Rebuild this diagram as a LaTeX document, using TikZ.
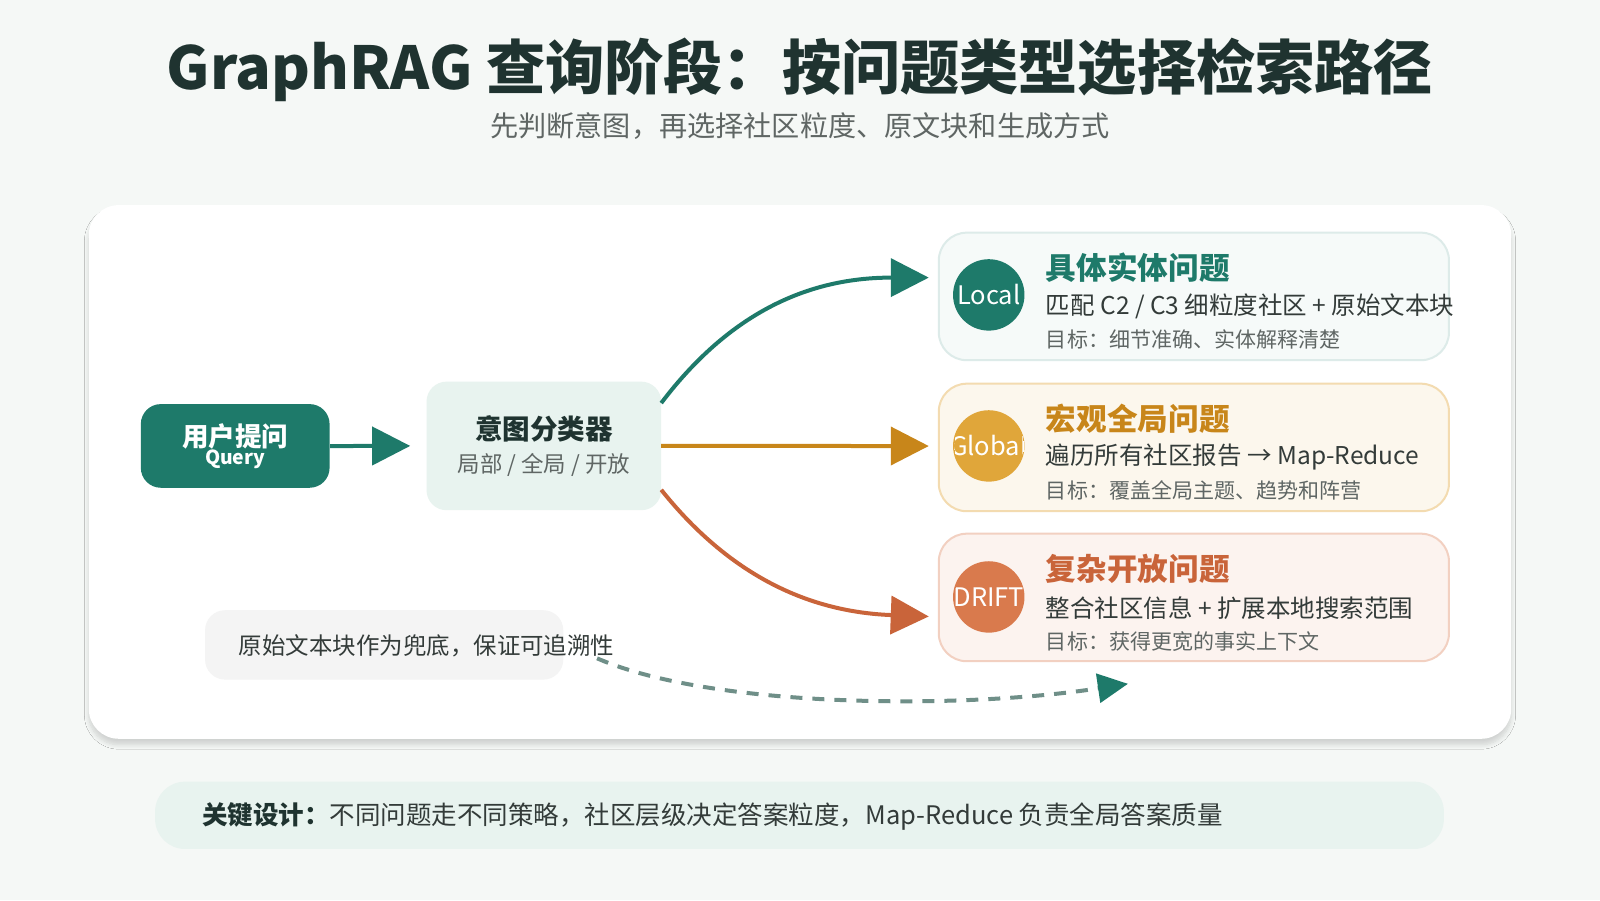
\documentclass[tikz,border=0pt]{standalone}
\usepackage{fontspec}
\setmainfont{Noto Sans CJK SC}
\usetikzlibrary{arrows.meta,shadows.blur}
\definecolor{bg}{HTML}{F5F8F6}
\definecolor{teal}{HTML}{1E7A6A}
\definecolor{dark}{HTML}{1F3330}
\definecolor{gold}{HTML}{E0A63A}
\definecolor{goldt}{HTML}{C8861A}
\definecolor{rust}{HTML}{D97A4D}
\definecolor{rustt}{HTML}{C9643A}
\definecolor{mint}{HTML}{E8F3EF}
\definecolor{txt}{HTML}{333B39}
\definecolor{gry}{HTML}{5F6664}
\definecolor{dash}{HTML}{6F8F88}
\newcommand{\fs}[1]{\fontsize{#1}{#1}\selectfont}
\tikzset{
 card/.style={rounded corners=14pt,line width=1pt,minimum width=250pt,minimum height=62.5pt,anchor=north west},
 circ/.style={circle,minimum size=35pt,inner sep=0pt},
 tip/.style={-{Triangle[length=19pt,width=19pt]},line width=2pt},
 h/.style={anchor=west,font=\fs{15}\bfseries},
 l2/.style={anchor=west,font=\fs{12},text=txt},
 l3/.style={anchor=west,font=\fs{10.3},text=gry},
}
\begin{document}
\begin{tikzpicture}[x=0.5pt,y=-0.5pt,scale=1.0204,every node/.append style={transform shape}]
\fill[bg] (0,0) rectangle (1568,882);
\node[font=\fs{29}\bfseries,text=dark] (title) at (784,68) {GraphRAG 查询阶段：按问题类型选择检索路径};
\node[font=\fs{13.8},text=gry] (sub) at (784,124) {先判断意图，再选择社区粒度、原文块和生成方式};
\fill[white,rounded corners=15pt,blur shadow={shadow blur steps=10,shadow xshift=0pt,shadow yshift=-3pt,shadow opacity=15}] (87,201) rectangle (1481,724);
\node[fill=teal,rounded corners=10pt,minimum width=92.5pt,minimum height=41pt,align=center,text=white] (user) at (230.5,437) {{\fs{13}\bfseries 用户提问}\\[-3pt]{\fs{9.5}\bfseries Query}};
\node[fill=mint,rounded corners=10pt,minimum width=115pt,minimum height=63pt,align=center] (cls) at (533,437) {{\fs{13.5}\bfseries\color{dark}意图分类器}\\[4pt]{\fs{11}\color{gry}局部 / 全局 / 开放}};
\draw[tip,teal] (user.east) -- (402,437) coordinate (ua);
\node[card,fill=teal!4,draw=teal!15] (b1) at (919,227) {};
\node[card,fill=gold!9,draw=gold!40] (b2) at (919,375) {};
\node[card,fill=rust!9,draw=rust!35] (b3) at (919,522) {};
\foreach \n/\y/\c/\t in {c1/289/teal/Local,c2/437/gold/Global,c3/585/rust/DRIFT}{
 \node[circ,fill=\c] (\n) at (969,\y) {};
 \begin{scope}\clip (969,\y) circle (34);
 \node[font=\fs{12.5},text=white] at (969,\y) {\t};
 \end{scope}}
\node[h,text=teal] (h1) at (1018,262) {具体实体问题};
\node[l2] (a1) at (1018,300) {匹配 C2 / C3 细粒度社区 + 原始文本块};
\node[l3] (t1) at (1018,333) {目标：细节准确、实体解释清楚};
\node[h,text=goldt] (h2) at (1018,410) {宏观全局问题};
\node[l2] (a2) at (1018,448) {遍历所有社区报告 → Map-Reduce};
\node[l3] (t2) at (1018,481) {目标：覆盖全局主题、趋势和阵营};
\node[h,text=rustt] (h3) at (1018,557) {复杂开放问题};
\node[l2] (a3) at (1018,596) {整合社区信息 + 扩展本地搜索范围};
\node[l3] (t3) at (1018,629) {目标：获得更宽的事实上下文};
\coordinate (e1) at (910,272);
\coordinate (e2) at (910,437);
\coordinate (e3) at (910,604);
\draw[tip,teal] (648,395) .. controls (720,300) and (800,272) .. (e1);
\draw[tip,goldt] (648,437) -- (e2);
\draw[tip,rustt] (648,480) .. controls (720,570) and (800,600) .. (e3);
\node[fill=gray!9,rounded corners=10pt,minimum width=175.5pt,minimum height=34pt] (note) at (376.5,632) {};
\node[anchor=west,font=\fs{11.5},text=txt] (nt) at (227,633) {原始文本块作为兜底，保证可追溯性};
\coordinate (ds) at (585,645);
\coordinate (de) at (1105,670);
\draw[line width=2pt,dash pattern=on 6pt off 5pt,draw=dash] (ds) .. controls (700,695) and (950,695) .. (1080,674);
\draw[-{Triangle[length=15pt,width=15pt]},teal,line width=0pt] (1079,674) -- (de);
\fill[mint] (152,766) [rounded corners=15pt] rectangle (1415,832);
\node[anchor=west,font=\fs{12.5},text=txt] (key) at (191,800) {{\bfseries\color{dark}关键设计：}不同问题走不同策略，社区层级决定答案粒度，Map-Reduce 负责全局答案质量};
\pgfresetboundingbox
\useasboundingbox (0,0) rectangle (1568,882);
\end{tikzpicture}
\end{document}
